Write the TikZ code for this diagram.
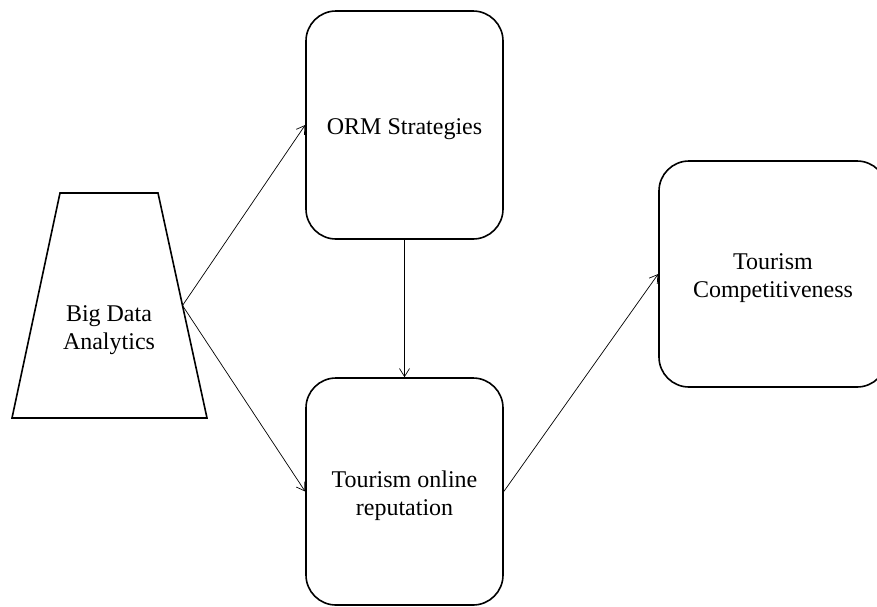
\documentclass[tikz,border=0pt]{standalone}
\usepackage{fontspec}
\setmainfont{Liberation Serif}
\usetikzlibrary{arrows.meta}
\begin{document}
\begin{tikzpicture}[x=1pt,y=-1pt,
  box/.style={draw, line width=1.6pt, rounded corners=30pt, inner sep=0pt},
  label/.style={align=center, font=\fontsize{24}{28}\selectfont, inner sep=0pt},
  link/.style={line width=0.7pt, -{Straight Barb[length=8pt,width=10pt,line width=0.7pt]}}]
  \useasboundingbox (0,0) rectangle (877,606);
  \clip (0,0) rectangle (877,606);

  % trapezoid source block
  \draw[line width=1.6pt] (60,193) -- (158,193) -- (207,418) -- (12,418) -- cycle;
  \coordinate (bdaR) at (182.5,305.5);
  \node[label] (bda) at (109,330) {Big Data\\Analytics};

  % rounded boxes
  \node[box, minimum width=197pt, minimum height=228pt] (orm) at (404.5,125) {};
  \node[box, minimum width=197pt, minimum height=227pt] (tor) at (404.5,491.5) {};
  \node[box, minimum width=228pt, minimum height=226pt] (tc) at (773,274) {};

  % box texts, set slightly below the box centres
  \node[label] (ormT) at ([yshift=-4pt]orm.center) {ORM Strategies};
  \node[label] (torT) at ([yshift=-4pt]tor.center) {Tourism online\\reputation};
  \node[label] (tcT) at ([yshift=-4pt]tc.center) {Tourism\\Competitiveness};

  % connectors
  \draw[link] (bdaR) -- (orm.west);
  \draw[link] (bdaR) -- (tor.west);
  \draw[link] (orm.south) -- (tor.north);
  \draw[link] (tor.east) -- (tc.west);
\end{tikzpicture}
\end{document}
